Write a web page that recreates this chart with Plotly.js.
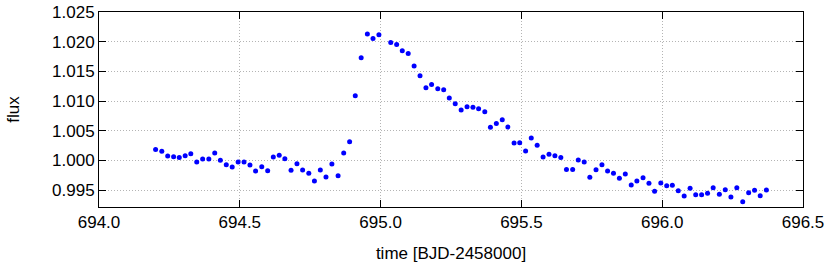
<!DOCTYPE html>
<html>
<head>
<meta charset="utf-8">
<script src="https://cdn.plot.ly/plotly-3.0.1.min.js"></script>
<style>
  html, body { margin: 0; padding: 0; background: #fff; }
  #plot { width: 830px; height: 268px; }
</style>
</head>
<body>
<div id="plot"></div>
<script>
// light curve
var time = [
  694.201, 694.223, 694.244, 694.265, 694.285, 694.306, 694.326, 694.347, 694.368, 694.390,
  694.411, 694.431, 694.452, 694.473, 694.494, 694.515, 694.536, 694.556, 694.578, 694.599,
  694.619, 694.640, 694.660, 694.682, 694.703, 694.723, 694.745, 694.765, 694.786, 694.806,
  694.827, 694.849, 694.869, 694.890, 694.910, 694.931, 694.953, 694.973, 694.994,
  695.036, 695.057, 695.077, 695.098, 695.119, 695.140, 695.161, 695.181, 695.203, 695.224,
  695.244, 695.265, 695.286, 695.307, 695.328, 695.348, 695.370, 695.390, 695.411, 695.432,
  695.452, 695.474, 695.494, 695.515, 695.535, 695.556, 695.577, 695.598, 695.619, 695.640,
  695.660, 695.682, 695.702, 695.723, 695.743, 695.765, 695.786, 695.806, 695.827, 695.848,
  695.869, 695.890, 695.910, 695.932, 695.953, 695.973, 695.995, 696.016, 696.036, 696.057,
  696.078, 696.099, 696.119, 696.140, 696.161, 696.181, 696.203, 696.224, 696.244, 696.265,
  696.286, 696.307, 696.328, 696.348, 696.370
];
var flux = [
  1.00185, 1.00152, 1.00072, 1.00061, 1.00050, 1.00078, 1.00111, 0.99971, 1.00022, 1.00022,
  1.00123, 1.00000, 0.99926, 0.99887, 0.99971, 0.99971, 0.99921, 0.99820, 0.99892, 0.99825,
  1.00056, 1.00084, 1.00027, 0.99832, 0.99943, 0.99837, 0.99781, 0.99652, 0.99837, 0.99719,
  0.99938, 0.99741, 1.00123, 1.00313, 1.01088, 1.01727, 1.02131, 1.02054, 1.02115,
  1.01987, 1.01953, 1.01845, 1.01801, 1.01588, 1.01424, 1.01222, 1.01279, 1.01205, 1.01189,
  1.01049, 1.00953, 1.00847, 1.00902, 1.00897, 1.00869, 1.00818, 1.00556, 1.00623, 1.00684,
  1.00561, 1.00291, 1.00297, 1.00157, 1.00375, 1.00253, 1.00056, 1.00101, 1.00078, 1.00050,
  0.99848, 0.99848, 1.00005, 0.99971, 0.99714, 0.99842, 0.99926, 0.99820, 0.99781, 0.99697,
  0.99769, 0.99584, 0.99652, 0.99707, 0.99613, 0.99478, 0.99618, 0.99572, 0.99579, 0.99488,
  0.99399, 0.99529, 0.99421, 0.99421, 0.99444, 0.99539, 0.99427, 0.99505, 0.99382, 0.99539,
  0.99303, 0.99455, 0.99495, 0.99404, 0.99500
];

var trace = {
  x: time,
  y: flux,
  mode: 'markers',
  type: 'scatter',
  marker: {color: '#0000ff', size: 5},
  hoverinfo: 'skip'
};

var fnt = {family: 'Liberation Sans, Arial, sans-serif', size: 17, color: '#000'};

var axisCommon = {
  showline: true,
  linecolor: '#000',
  linewidth: 1,
  mirror: 'ticks',
  ticks: 'inside',
  ticklen: 7,
  tickcolor: '#000',
  showgrid: true,
  gridcolor: '#b4b4b4',
  griddash: '1px,2px',
  gridwidth: 1,
  zeroline: false,
  tickfont: fnt
};

var layout = {
  width: 830,
  height: 268,
  margin: {l: 99, r: 27, t: 12, b: 61},
  paper_bgcolor: '#fff',
  plot_bgcolor: '#fff',
  showlegend: false,
  font: fnt,
  xaxis: Object.assign({}, axisCommon, {
    range: [694.0, 696.5],
    tick0: 694.0,
    dtick: 0.5,
    tickformat: '.1f',
    title: {text: 'time [BJD-2458000]', font: fnt, standoff: 15}
  }),
  yaxis: Object.assign({}, axisCommon, {
    range: [0.99214, 1.025],
    tick0: 0.995,
    dtick: 0.005,
    tickformat: '.3f',
    title: {text: 'flux', font: fnt, standoff: 28}
  })
};

Plotly.newPlot('plot', [trace], layout, {displayModeBar: false, staticPlot: true});
</script>
</body>
</html>
